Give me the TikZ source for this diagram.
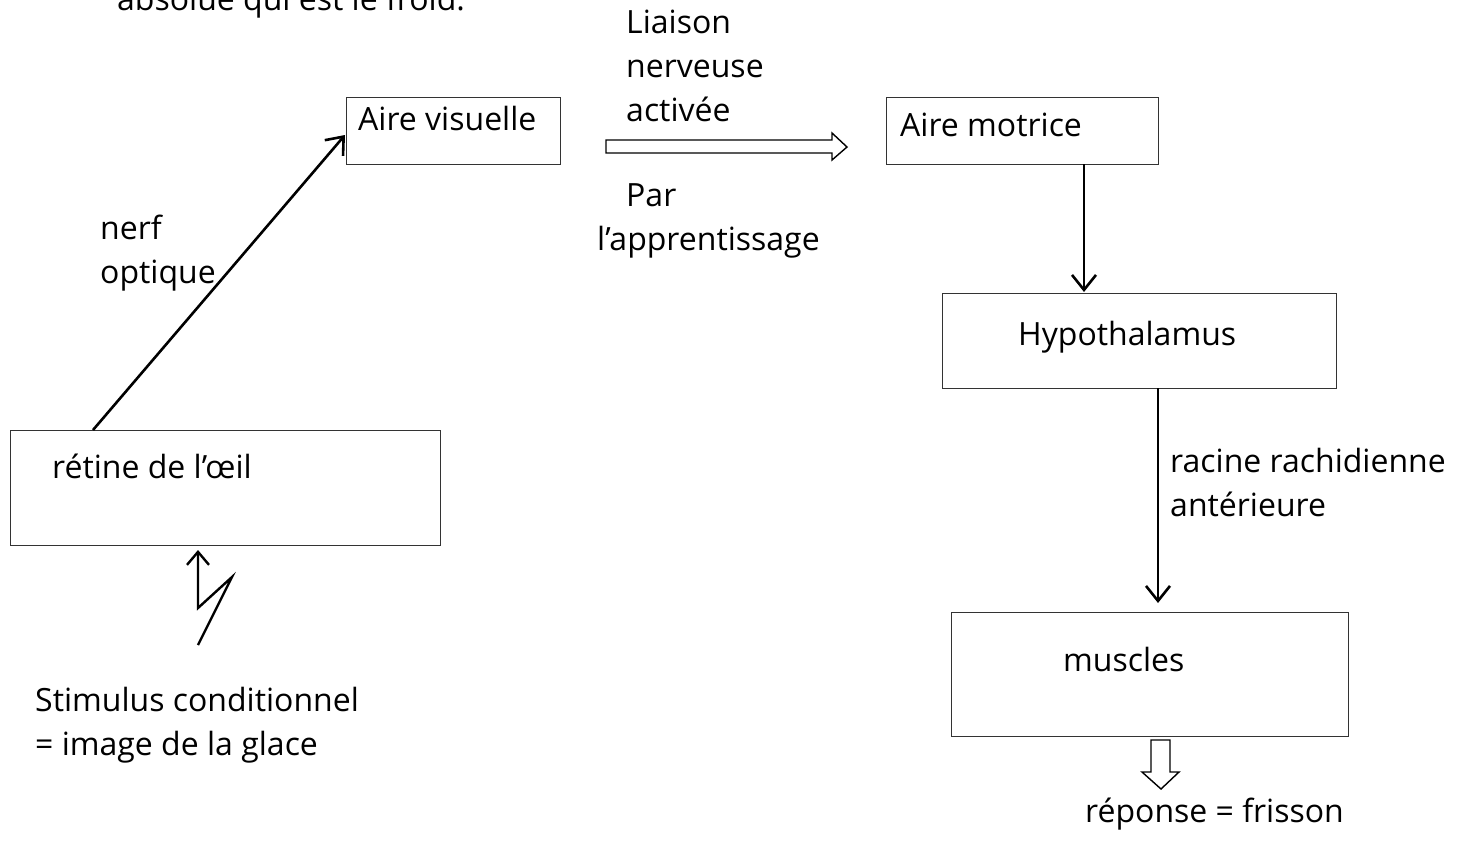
\documentclass[tikz,border=0pt]{standalone}
\usepackage{fontspec}
\setmainfont{Open Sans}
\usetikzlibrary{arrows.meta}
\begin{document}
\begin{tikzpicture}[x=1pt,y=-1pt,
  box/.style={draw=black!80,line width=1.3pt,anchor=north west,inner sep=0pt},
  txt/.style={anchor=base west,inner sep=0pt,font=\fontsize{32}{44}\selectfont},
  conn/.style={line width=2.6pt,-{Straight Barb[length=15pt,width=24pt,line width=2.6pt]}},
  hollow/.style={draw=black,line width=1.4pt,fill=white,line join=miter}]
\clip (0,0) rectangle (1459,852);
\fill[white] (0,0) rectangle (1459,852);
% top clipped text
\node[txt] (top) at (117,10) {absolue qui est le froid.};
% boxes
\node[box,minimum width=214pt,minimum height=67pt] (av) at (346,97) {};
\node[box,minimum width=272pt,minimum height=67pt] (am) at (886,97) {};
\node[box,minimum width=394pt,minimum height=95pt] (hy) at (942,293) {};
\node[box,minimum width=430pt,minimum height=115pt] (re) at (10,430) {};
\node[box,minimum width=397pt,minimum height=124pt] (mu) at (951,612) {};
% box texts
\node[txt] (tav) at (358,130) {Aire visuelle};
\node[txt] (tam) at (900,136) {Aire motrice};
\node[txt] (thy) at (1018,345) {Hypothalamus};
\node[txt] (tre) at (52,478) {rétine de l’œil};
\node[txt] (tmu) at (1063,671) {muscles};
% labels
\node[txt] (l1) at (626,33) {Liaison};
\node[txt] (l2) at (626,77) {nerveuse};
\node[txt] (l3) at (626,121) {activée};
\node[txt] (l4) at (626,206) {Par};
\node[txt] (l5) at (597,250) {l’apprentissage};
\node[txt] (n1) at (100,239) {nerf};
\node[txt] (n2) at (100,283) {optique};
\node[txt] (r1) at (1170,472) {racine rachidienne};
\node[txt] (r2) at (1170,516) {antérieure};
\node[txt] (s1) at (35,711) {Stimulus conditionnel};
\node[txt] (s2) at (35,755) {= image de la glace};
\node[txt] (rep) at (1085,822) {réponse = frisson};
% connectors
\coordinate (nstart) at (93,430);
\coordinate (nend) at (345,135);
\draw[conn] (nstart) -- (nend);
\coordinate (amb) at (1084,164);
\coordinate (hyt) at (1084,292);
\draw[conn] (amb) -- (hyt);
\coordinate (hyb) at (1158,388);
\coordinate (mut) at (1158,603);
\draw[conn] (hyb) -- (mut);
% lightning
\coordinate (lz1) at (198,645);
\coordinate (lz2) at (232,577);
\coordinate (lz3) at (198,608);
\coordinate (lz4) at (198,550);
\draw[line width=2.4pt,line join=miter,-{Straight Barb[length=13pt,width=22pt,line width=2.4pt]}] (lz1) -- (lz2) -- (lz3) -- (lz4);
% hollow horizontal arrow
\draw[hollow] (606,140) -- (832,140) -- (832,133) -- (847,147) -- (832,160) -- (832,153) -- (606,153) -- cycle;
% hollow down arrow
\draw[hollow] (1151,740) -- (1170,740) -- (1170,772) -- (1179,772) -- (1161,789) -- (1142,772) -- (1151,772) -- cycle;
\end{tikzpicture}
\end{document}
